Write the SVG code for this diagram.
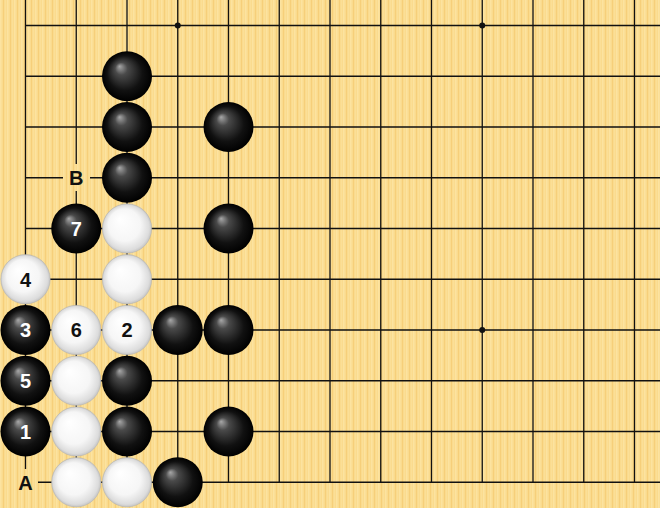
<svg xmlns="http://www.w3.org/2000/svg" width="660" height="508" viewBox="0 0 660 508">
<defs>
<pattern id="wood" x="0" y="0" width="7" height="508" patternUnits="userSpaceOnUse">
<rect width="7" height="508" fill="#FADB8E"/>
<rect x="0" width="1.5" height="508" fill="#FCE3A0"/>
<rect x="3" width="1" height="508" fill="#F6CF7A"/>
<rect x="5" width="1" height="508" fill="#FBDF97"/>
</pattern>
<radialGradient id="gb" cx="0.5" cy="0.5" r="0.5" fx="0.35" fy="0.3">
<stop offset="0" stop-color="#a8a8a8"/>
<stop offset="0.25" stop-color="#4a4a4a"/>
<stop offset="0.7" stop-color="#111"/>
<stop offset="1" stop-color="#000"/>
</radialGradient>
<radialGradient id="gw" cx="0.5" cy="0.5" r="0.5" fx="0.35" fy="0.3">
<stop offset="0" stop-color="#ffffff"/>
<stop offset="0.65" stop-color="#f6f6f6"/>
<stop offset="0.92" stop-color="#dcdcdc"/>
<stop offset="1" stop-color="#c4c4c4"/>
</radialGradient>
<style>
.ln{stroke:#111;stroke-width:1.3;fill:none}
.b{fill:url(#gb)}
.w{fill:url(#gw);stroke:#b0b0b0;stroke-width:0.5}
.t{font-family:"Liberation Sans",Arial,sans-serif;font-weight:bold;font-size:20px;text-anchor:middle}
.tw{fill:#fff}
.tb{fill:#111}
.star{fill:#111}
</style>
</defs>
<rect width="660" height="508" fill="url(#wood)"/>
<g id="grid" class="ln">
<path d="M25.5 0V482.25M76.25 0V482.25M127 0V482.25M177.75 0V482.25M228.5 0V482.25M279.25 0V482.25M330 0V482.25M380.75 0V482.25M431.5 0V482.25M482.25 0V482.25M533 0V482.25M583.75 0V482.25M634.5 0V482.25"/>
<path d="M25.5 25.5H660M25.5 76.25H660M25.5 127H660M25.5 177.75H660M25.5 228.5H660M25.5 279.25H660M25.5 330H660M25.5 380.75H660M25.5 431.5H660M25.5 482.25H660"/>
</g>
<g id="stars">
<circle class="star" cx="177.75" cy="25.5" r="3"/>
<circle class="star" cx="482.25" cy="25.5" r="3"/>
<circle class="star" cx="482.25" cy="330" r="3"/>
</g>
<g id="stones">
<circle id="b1" class="b" cx="127" cy="76.25" r="25"/>
<circle id="b2" class="b" cx="127" cy="127" r="25"/>
<circle id="b3" class="b" cx="228.5" cy="127" r="25"/>
<circle id="b4" class="b" cx="127" cy="177.75" r="25"/>
<g id="m7"><circle class="b" cx="76.25" cy="228.5" r="25"/><text class="t tw" x="76.25" y="235.75">7</text></g>
<circle id="b5" class="b" cx="228.5" cy="228.5" r="25"/>
<circle id="w1" class="w" cx="127" cy="228.5" r="24.7"/>
<circle id="w2" class="w" cx="127" cy="279.25" r="24.7"/>
<g id="m4"><circle class="w" cx="25.5" cy="279.25" r="24.7"/><text class="t tb" x="25.5" y="286.5">4</text></g>
<g id="m3"><circle class="b" cx="25.5" cy="330" r="25"/><text class="t tw" x="25.5" y="337.25">3</text></g>
<g id="m6"><circle class="w" cx="76.25" cy="330" r="24.7"/><text class="t tb" x="76.25" y="337.25">6</text></g>
<g id="m2"><circle class="w" cx="127" cy="330" r="24.7"/><text class="t tb" x="127" y="337.25">2</text></g>
<circle id="b6" class="b" cx="177.75" cy="330" r="25"/>
<circle id="b7" class="b" cx="228.5" cy="330" r="25"/>
<g id="m5"><circle class="b" cx="25.5" cy="380.75" r="25"/><text class="t tw" x="25.5" y="388">5</text></g>
<circle id="w3" class="w" cx="76.25" cy="380.75" r="24.7"/>
<circle id="b8" class="b" cx="127" cy="380.75" r="25"/>
<g id="m1"><circle class="b" cx="25.5" cy="431.5" r="25"/><text class="t tw" x="25.5" y="438.75">1</text></g>
<circle id="w4" class="w" cx="76.25" cy="431.5" r="24.7"/>
<circle id="b9" class="b" cx="127" cy="431.5" r="25"/>
<circle id="b10" class="b" cx="228.5" cy="431.5" r="25"/>
<circle id="w5" class="w" cx="76.25" cy="482.25" r="24.7"/>
<circle id="w6" class="w" cx="127" cy="482.25" r="24.7"/>
<circle id="b11" class="b" cx="177.75" cy="482.25" r="25"/>
</g>
<g id="labelB">
<rect x="63" y="164" width="27" height="27" fill="url(#wood)"/>
<text class="t tb" x="76.25" y="185">B</text>
</g>
<g id="labelA">
<rect x="12" y="469" width="26" height="27" fill="url(#wood)"/>
<text class="t tb" x="25.5" y="489.5">A</text>
</g>
</svg>
